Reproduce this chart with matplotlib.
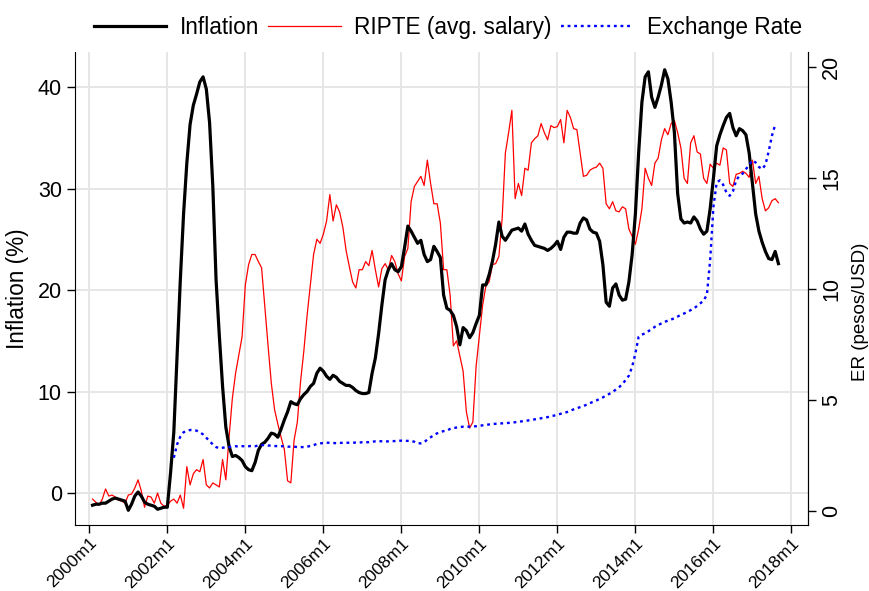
import numpy as np
import matplotlib
matplotlib.use("Agg")
import matplotlib.pyplot as plt
from matplotlib.lines import Line2D

plt.rcParams['font.family'] = ['Liberation Sans', 'DejaVu Sans']

# monthly data, index 0 = 2000m1
infl_start = 1   # 2000m2
inflation = [
    -1.2, -1.1, -1.1, -1.0, -1.0, -0.8, -0.6, -0.5, -0.6, -0.7, -0.8,
    -1.7, -1.1, -0.3, 0.1, -0.3, -0.9, -1.1, -1.2, -1.3, -1.6, -1.5, -1.4,
    -1.4, 2.0, 6.0, 13.5, 21.0, 27.5, 32.5, 36.3, 38.2, 39.3, 40.5, 41.0,
    39.8, 36.5, 30.2, 21.0, 15.5, 10.5, 6.5, 4.6, 3.6, 3.7, 3.5, 3.2,
    2.6, 2.3, 2.2, 3.0, 4.2, 4.8, 5.0, 5.4, 5.9, 5.8, 5.5, 6.3,
    7.2, 8.0, 9.0, 8.8, 8.7, 9.3, 9.7, 10.0, 10.5, 10.8, 11.8, 12.3,
    12.0, 11.5, 11.2, 11.6, 11.4, 11.0, 10.8, 10.6, 10.6, 10.4, 10.1, 9.9,
    9.8, 9.8, 9.9, 11.8, 13.3, 15.7, 18.5, 21.0, 22.0, 22.6, 22.0, 21.8,
    22.3, 24.2, 26.3, 25.8, 25.2, 24.6, 24.9, 23.5, 22.8, 23.0, 24.3, 23.8,
    23.2, 19.5, 18.2, 18.0, 17.5, 16.4, 14.6, 16.3, 16.0, 15.3, 15.8, 16.7,
    17.5, 20.5, 20.5, 21.5, 22.8, 24.5, 26.7, 25.3, 24.9, 25.4, 25.9, 26.0,
    26.1, 25.8, 26.5, 25.5, 24.9, 24.4, 24.3, 24.2, 24.1, 23.9, 24.1, 24.4,
    24.8, 24.0, 25.2, 25.7, 25.7, 25.6, 25.6, 26.6, 27.1, 26.9, 26.0, 25.7,
    25.6, 24.8, 22.5, 18.8, 18.4, 20.2, 20.6, 19.5, 19.0, 19.1, 20.8, 23.5,
    27.5, 33.5, 38.5, 41.0, 41.5, 39.0, 38.0, 39.0, 40.2, 41.7, 40.8, 38.5,
    35.5, 29.5, 27.0, 26.6, 26.7, 26.6, 27.2, 26.8, 26.0, 25.5, 25.8, 28.0,
    31.0, 34.2, 35.3, 36.2, 37.0, 37.4, 36.0, 35.2, 35.9, 35.7, 35.3, 33.5,
    30.5, 27.5, 25.8, 24.7, 23.8, 23.1, 23.0, 23.8, 22.6,
]

ripte_start = 1
ripte = [
    -0.6, -0.9, -1.2, -0.6, 0.4, -0.3, -0.2, -0.4, -0.7, -0.8, -1.0,
    -0.2, -0.1, 0.5, 1.3, 0.2, -1.4, -0.3, -0.4, -1.0, 0.0, -1.0, -1.3,
    -1.2, -0.8, -0.6, -1.0, -0.2, -1.5, 2.6, 0.8, 1.9, 2.3, 2.1, 3.3,
    0.8, 0.5, 1.0, 0.8, 0.6, 3.3, 1.3, 5.5, 9.3, 11.8, 13.6, 15.4,
    20.5, 22.5, 23.5, 23.5, 22.8, 22.2, 18.3, 14.5, 10.8, 8.2, 6.8, 5.5,
    4.3, 1.2, 1.0, 5.2, 7.0, 11.0, 14.0, 17.5, 20.5, 23.5, 25.0, 24.6,
    25.5, 26.8, 29.4, 26.8, 28.4, 27.7, 26.2, 23.9, 22.3, 20.8, 20.2, 22.0,
    22.0, 22.8, 22.4, 23.9, 22.0, 20.3, 22.1, 22.6, 22.0, 23.4, 22.8, 21.6,
    20.9, 23.3, 24.1, 28.7, 30.2, 30.7, 31.2, 30.3, 32.8, 30.5, 28.5, 28.5,
    26.6, 22.0, 22.0, 19.5, 14.5, 15.0, 13.5, 12.0, 8.0, 6.4, 7.0, 12.5,
    15.5, 18.5, 20.4, 20.8, 22.5, 22.6, 23.3, 27.0, 33.5, 35.5, 37.7, 29.0,
    30.5, 29.3, 32.0, 31.8, 34.5, 34.9, 35.2, 36.4, 35.5, 34.8, 36.2, 36.0,
    36.1, 36.8, 34.5, 37.7, 37.0, 35.9, 35.8, 33.5, 31.2, 31.3, 31.8, 32.0,
    32.1, 32.5, 32.0, 28.5, 28.0, 28.7, 27.8, 27.7, 28.2, 28.0, 26.0, 25.3,
    24.5, 26.0, 28.0, 32.0, 31.0, 30.3, 32.5, 33.0, 34.8, 35.9, 35.3, 36.4,
    36.7, 35.5, 34.0, 31.0, 30.5, 34.5, 35.2, 33.6, 33.4, 31.0, 30.5, 32.4,
    32.0, 32.5, 32.3, 34.0, 33.8, 30.5, 30.2, 31.4, 31.5, 31.7, 31.5, 31.1,
    32.8, 30.5, 31.2, 29.0, 27.8, 28.1, 28.8, 29.0, 28.6,
]

er_start = 26    # 2002m3
exchange_rate = [
    2.4, 3.0, 3.35, 3.55, 3.6, 3.65, 3.65, 3.62, 3.55, 3.45,
    3.3, 3.15, 3.0, 2.88, 2.83, 2.85, 2.87, 2.88, 2.9, 2.92, 2.9, 2.92,
    2.92, 2.92, 2.93, 2.92, 2.95, 2.97, 2.97, 2.95, 2.95, 2.93, 2.92, 2.92,
    2.92, 2.9, 2.9, 2.9, 2.88, 2.88, 2.88, 2.9, 2.93, 2.97, 3.02, 3.05,
    3.06, 3.08, 3.07, 3.06, 3.06, 3.07, 3.07, 3.07, 3.08, 3.08, 3.08, 3.08,
    3.1, 3.1, 3.1, 3.12, 3.14, 3.15, 3.14, 3.13, 3.14, 3.15, 3.15, 3.16,
    3.17, 3.16, 3.16, 3.16, 3.12, 3.05, 3.05, 3.1, 3.22, 3.32, 3.42, 3.5,
    3.56, 3.6, 3.62, 3.7, 3.74, 3.76, 3.78, 3.8, 3.8, 3.8, 3.81, 3.82,
    3.84, 3.86, 3.88, 3.9, 3.92, 3.93, 3.94, 3.95, 3.96, 3.97, 3.98, 4.0,
    4.02, 4.04, 4.06, 4.08, 4.1, 4.13, 4.15, 4.18, 4.2, 4.23, 4.27, 4.3,
    4.34, 4.38, 4.42, 4.46, 4.52, 4.58, 4.63, 4.68, 4.73, 4.79, 4.86, 4.92,
    4.98, 5.05, 5.12, 5.2, 5.28, 5.37, 5.47, 5.58, 5.72, 5.9, 6.1, 6.5,
    7.1, 7.85, 7.95, 8.0, 8.1, 8.2, 8.3, 8.38, 8.45, 8.52, 8.58, 8.63,
    8.68, 8.76, 8.84, 8.9, 8.97, 9.05, 9.13, 9.24, 9.36, 9.48, 9.75, 11.3,
    13.7, 14.8, 14.9, 14.7, 14.35, 14.2, 14.4, 14.9, 15.1, 15.2, 15.4, 15.6,
    15.8, 15.7, 15.5, 15.4, 15.6, 16.2, 16.9, 17.4,
]

tick_years = list(range(2000, 2019, 2))
tick_labels = [f"{y}m1" for y in tick_years]

x_infl = np.arange(infl_start, infl_start + len(inflation))
x_ripte = np.arange(ripte_start, ripte_start + len(ripte))
x_er = np.arange(er_start, er_start + len(exchange_rate))

fig = plt.figure(figsize=(8.7, 5.91), dpi=100)
ax = fig.add_axes([75 / 870, 1 - 525 / 591, (808 - 75) / 870, (525 - 52) / 591])
ax2 = ax.twinx()

ax.plot(x_ripte, ripte, color='red', lw=0.9)
ax.plot(x_infl, inflation, color='black', lw=2.3)
ax2.plot(x_er, exchange_rate, color='blue', lw=1.7, linestyle=(0, (1.2, 1.6)))

ax.set_xlim(-4.4, 221.1)
ax.set_ylim(-3.15, 43.45)
ax2.set_ylim(-0.63, 20.68)

ax.set_xticks([(y - 2000) * 12 for y in tick_years])
ax.set_xticklabels(tick_labels, rotation=45, ha='right', rotation_mode='anchor', fontsize=12.6)
ax.set_yticks([0, 10, 20, 30, 40])
ax2.set_yticks([0, 5, 10, 15, 20])
ax.tick_params(axis='y', labelsize=15.5, length=6, width=1)
ax.tick_params(axis='x', length=6, width=1, pad=1.5)
ax2.tick_params(axis='y', labelsize=15.5, length=6, width=1)
for lab in ax2.get_yticklabels():
    lab.set_rotation(90)
    lab.set_va('center')

ax.grid(True, color='#e6e6e6', lw=1.4)
ax.set_axisbelow(True)
for a in (ax, ax2):
    a.spines['top'].set_visible(False)
ax2.spines['left'].set_visible(False)
ax2.spines['bottom'].set_visible(False)

ax.set_ylabel('Inflation (%)', fontsize=16.3, labelpad=6)
ax2.set_ylabel('ER (pesos/USD)', fontsize=13.5, rotation=90)
ax2.yaxis.set_label_coords(1.06, 0.45)

handles = [
    Line2D([], [], color='black', lw=2.3),
    Line2D([], [], color='red', lw=0.9),
    Line2D([], [], color='blue', lw=1.7, linestyle=(0, (1.2, 1.6))),
]
fig.legend(handles, ['Inflation', 'RIPTE (avg. salary)', 'Exchange Rate'],
           loc='upper center', bbox_to_anchor=(0.515, 1.008), ncol=3, frameon=False,
           fontsize=16.3, handlelength=3.2, columnspacing=0.4, handletextpad=0.6)

fig.savefig('out.png', dpi=100)
